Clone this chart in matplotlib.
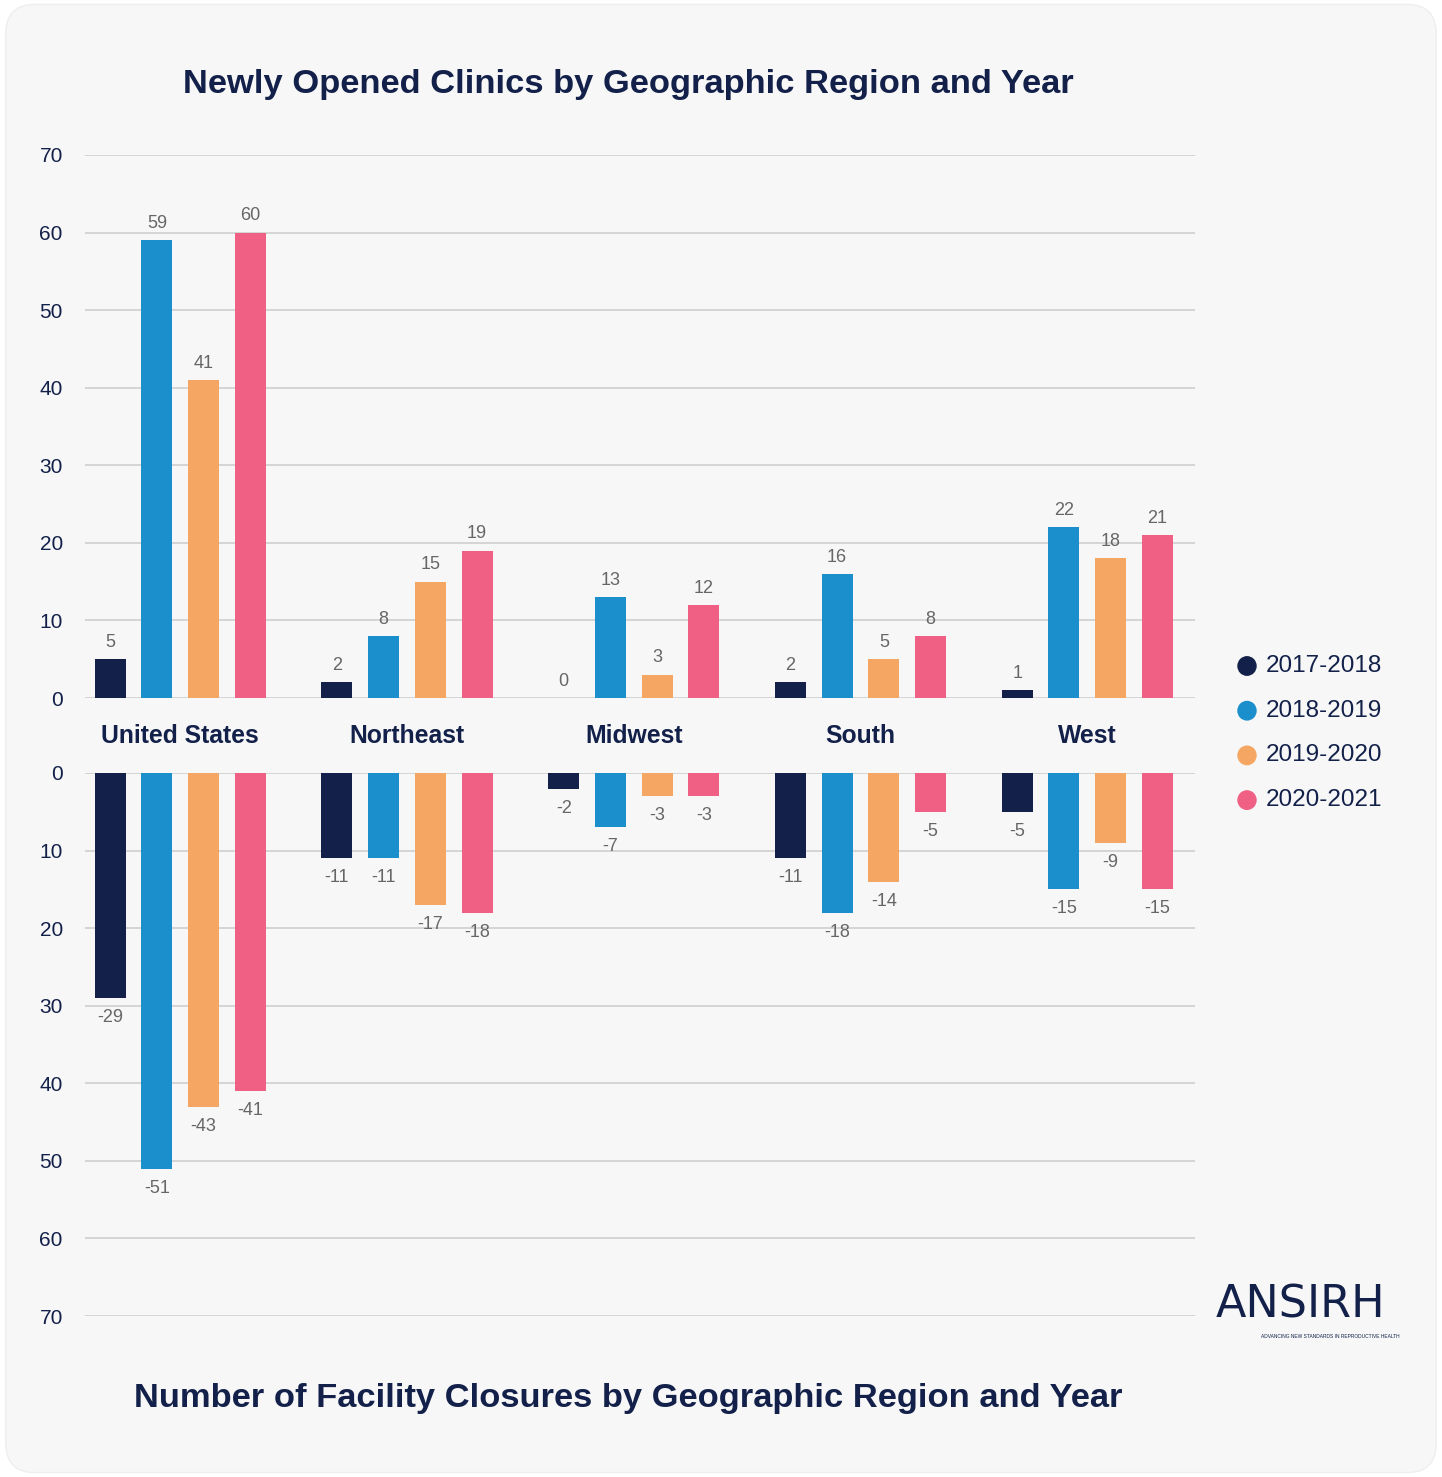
import numpy as np
import matplotlib.pyplot as plt
from matplotlib.patches import FancyBboxPatch

regions = ["United States", "Northeast", "Midwest", "South", "West"]
years = ["2017-2018", "2018-2019", "2019-2020", "2020-2021"]
colors = ["#13214a", "#1b8ecc", "#f5a663", "#f06084"]

# newly opened clinics
opened_1718 = [5, 2, 0, 2, 1]
opened_1819 = [59, 8, 13, 16, 22]
opened_1920 = [41, 15, 3, 5, 18]
opened_2021 = [60, 19, 12, 8, 21]

# facility closures
closed_1718 = [-29, -11, -2, -11, -5]
closed_1819 = [-51, -11, -7, -18, -15]
closed_1920 = [-43, -17, -3, -14, -9]
closed_2021 = [-41, -18, -3, -5, -15]

opened = [opened_1718, opened_1819, opened_1920, opened_2021]
closed = [closed_1718, closed_1819, closed_1920, closed_2021]

navy = "#13214a"
plt.rcParams['font.family'] = ['Liberation Sans', 'DejaVu Sans']

fig = plt.figure(figsize=(14.42, 14.77), dpi=100)
fig.patch.set_facecolor("white")
bg = FancyBboxPatch((0.004, 0.003), 0.992, 0.994, boxstyle="round,pad=0,rounding_size=0.02",
                    transform=fig.transFigure, facecolor="#f7f7f7", edgecolor="#eeeeee",
                    linewidth=1, zorder=-10)
fig.patches.append(bg)

W, H = 1442, 1477
left = 85 / W
width = 1110 / W
ax_top = fig.add_axes([left, 1 - 698 / H, width, 543 / H])
ax_bot = fig.add_axes([left, 1 - 1316 / H, width, 543 / H])

x = np.arange(len(regions))
bw = 0.137
step = 0.206

for ax in (ax_top, ax_bot):
    ax.set_facecolor("none")
    for s in ax.spines.values():
        s.set_visible(False)
    ax.set_xlim(-0.42, 4.475)
    ax.set_ylim(0, 70)
    ax.set_yticks(range(0, 71, 10))
    ax.set_xticks([])
    ax.grid(axis="y", color="#cfcfcf", linewidth=1.2)
    ax.set_axisbelow(True)
    ax.tick_params(axis="y", length=0, pad=16, labelsize=15, labelcolor=navy)

ax_bot.invert_yaxis()

for i in range(4):
    xs = x + (i - 1.5) * step
    ax_top.bar(xs, opened[i], width=bw, color=colors[i], label=years[i], zorder=3)
    for xx, v in zip(xs, opened[i]):
        ax_top.annotate(str(v), (xx, v), xytext=(0, 6), textcoords="offset points",
                        ha="center", va="bottom", fontsize=13, color="#666666")
    mags = [abs(v) for v in closed[i]]
    ax_bot.bar(xs, mags, width=bw, color=colors[i], zorder=3)
    for xx, v in zip(xs, closed[i]):
        ax_bot.annotate(str(v), (xx, abs(v)), xytext=(0, -8), textcoords="offset points",
                        ha="center", va="top", fontsize=13, color="#666666")

# region labels between the two panels
for xx, name in zip(x, regions):
    fx = ax_top.transData.transform((xx, 0))[0] / fig.bbox.width
    fig.text(fx, 1 - 736 / H, name, ha="center", va="center", fontsize=17.8,
             fontweight="bold", color=navy)

fig.text(628 / W, 1 - 85 / H, "Newly Opened Clinics by Geographic Region and Year",
         ha="center", va="center", fontsize=24.8, fontweight="bold", color=navy)
fig.text(628 / W, 1 - 1398 / H, "Number of Facility Closures by Geographic Region and Year",
         ha="center", va="center", fontsize=24.8, fontweight="bold", color=navy)

# legend
for i, yr in enumerate(years):
    yy = 1 - (666 + i * 44.7) / H
    fig.patches.append(plt.Circle((1247 / W, yy), 9 / W, transform=fig.transFigure,
                                  color=colors[i]))
    fig.text(1266 / W, yy, yr, ha="left", va="center", fontsize=17.5, color=navy)

# logo
fig.text(1300 / W, 1 - 1305 / H, "ANSIRH", ha="center", va="center", fontsize=32,
         color=navy, fontfamily="DejaVu Sans")
fig.text(1330 / W, 1 - 1337 / H, "ADVANCING NEW STANDARDS IN REPRODUCTIVE HEALTH",
         ha="center", va="center", fontsize=3.5, color=navy)

fig.savefig("out.png", dpi=100)
